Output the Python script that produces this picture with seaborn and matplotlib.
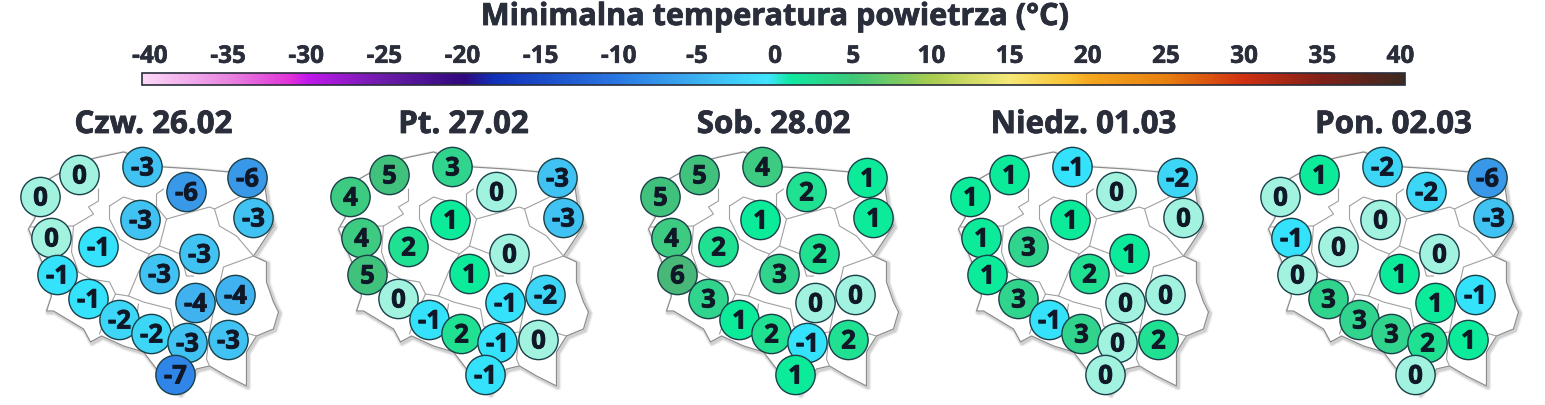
import matplotlib
matplotlib.use("Agg")
import numpy as np
import pandas as pd
import seaborn as sns
import matplotlib.pyplot as plt
import matplotlib.patheffects as pe
from matplotlib.colors import LinearSegmentedColormap, Normalize
from matplotlib.cm import ScalarMappable

sns.set_style("white")
plt.rcParams['font.family'] = ['Open Sans', 'Noto Sans', 'DejaVu Sans']
plt.rcParams['axes.unicode_minus'] = False

TEXT = '#2a2e3b'

days = ['Czw. 26.02', 'Pt. 27.02', 'Sob. 28.02', 'Niedz. 01.03', 'Pon. 02.03']

# station location on the map
station_x = [41, 80, 143, 187, 248, 254, 141, 52, 99, 200, 160, 58, 89, 120, 152, 188, 196, 236, 229, 176]
station_y = [198, 176, 168, 193, 179, 219, 221, 239, 248, 255, 275, 276, 300, 321, 335, 344, 304, 296, 341, 376]

temps = [
    [0, 0, -3, -6, -6, -3, -3, 0, -1, -3, -3, -1, -1, -2, -2, -3, -4, -4, -3, -7],
    [4, 5, 3, 0, -3, -3, 1, 4, 2, 0, 1, 5, 0, -1, 2, -1, -1, -2, 0, -1],
    [5, 5, 4, 2, 1, 1, 1, 4, 2, 2, 3, 6, 3, 1, 2, -1, 0, 0, 2, 1],
    [1, 1, -1, 0, -2, 0, 1, 1, 3, 1, 2, 1, 3, -1, 3, 0, 0, 0, 2, 0],
    [0, 1, -2, -2, -6, -3, 0, -1, 0, 0, 1, 0, 3, 3, 3, 2, 1, -1, 1, 0],
]

# colours of the circles
temp_colors = {-7: '#2f86e8', -6: '#3a98e8', -4: '#40b2f0', -3: '#40c2f2', -2: '#3dd6f6', -1: '#35e2fc',
               0: '#a2f2e0', 1: '#0ceb99', 2: '#20e092', 3: '#30d48c', 4: '#3ccb80', 5: '#40c27c', 6: '#48b878'}

# scale of the colour bar, it runs a little past the end ticks
bar_ticks = list(range(-40, 45, 5))
bar_min, bar_max = -40.5, 40.3
bar_stops = [(-40.5, '#fcd8f8'), (-35, '#e884e0'), (-31, '#e030d8'), (-30, '#c018ec'), (-25, '#6a1ca8'),
             (-20, '#30087c'), (-18, '#1030b8'), (-10, '#2a78e2'), (-5, '#3cb0f0'), (-0.5, '#40e4ff'),
             (1, '#10e8a0'), (5, '#3cc878'), (10, '#a8cc50'), (15, '#f5e878'), (19, '#f8c030'), (20, '#f5a820'),
             (25, '#e88010'), (30, '#d03010'), (35, '#802018'), (40.3, '#3c2a20')]

# map lines
outline_x = [80, 100, 124, 143, 164, 197, 230, 264, 268, 274, 254, 267, 267, 274, 279, 274, 257, 247, 247,
             227, 210, 197, 180, 157, 144, 124, 102, 91, 84, 54, 47, 52, 42, 29, 36, 23, 80]
outline_y = [163, 158, 153, 160, 168, 170, 173, 178, 205, 227, 257, 263, 283, 303, 313, 330, 337, 353, 387,
             377, 367, 370, 395, 370, 353, 347, 337, 343, 330, 312, 312, 297, 262, 230, 218, 195, 163]
borders = [
    ([99, 99, 89, 94, 74, 72, 79, 91, 110, 116, 129, 144, 171, 174], [190, 202, 208, 215, 227, 253, 273, 280, 283, 295, 297, 303, 310, 327]),
    ([110, 124, 157, 167, 160, 150, 137, 120, 110, 110], [207, 198, 208, 220, 247, 255, 250, 240, 220, 207]),
    ([164, 157, 157], [190, 195, 208]),
    ([167, 210, 215, 220, 237, 254], [220, 208, 210, 227, 237, 257]),
    ([215, 240], [210, 198]),
    ([254, 224, 219, 215, 210, 207, 210], [257, 268, 290, 307, 333, 360, 367]),
    ([150, 139, 129], [255, 273, 297]),
    ([160, 181, 187, 194], [247, 255, 277, 277]),
    ([174, 190, 210], [327, 335, 333]),
    ([257, 240, 222], [337, 332, 328]),
    ([30, 74], [228, 227]),
    ([54, 79], [270, 273]),
    ([139, 134, 144], [305, 340, 353]),
    ([116, 108, 100], [295, 312, 335]),
]

bar_cmap = LinearSegmentedColormap.from_list(
    'temp', [((v - bar_min) / (bar_max - bar_min), c) for v, c in bar_stops], N=512)


def heavy(color, width=0.6):
    return [pe.withStroke(linewidth=width, foreground=color)]


W, H = 1545, 406
fig = plt.figure(figsize=(W / 100, H / 100), dpi=100, facecolor='white')
fig.text(774 / W, 1 - 18 / H, 'Minimalna temperatura powietrza (°C)', ha='center', va='center',
         fontsize=22, fontweight='bold', color=TEXT, path_effects=heavy(TEXT))

# colour bar along the top
cax = fig.add_axes([142 / W, 1 - 86 / H, 1263 / W, 12 / H])
cb = fig.colorbar(ScalarMappable(Normalize(bar_min, bar_max), bar_cmap), cax=cax, orientation='horizontal')
cb.set_ticks(bar_ticks)
cb.outline.set_edgecolor(TEXT)
cb.outline.set_linewidth(1.2)
cax.xaxis.set_ticks_position('top')
cax.tick_params(axis='x', direction='in', length=2, width=1.2, color='#15151f', pad=3, labelsize=17.5,
                labelcolor=TEXT, top=True, bottom=True, labeltop=True, labelbottom=False)
for lab in cax.get_xticklabels():
    lab.set_fontweight('bold')
    lab.set_path_effects(heavy(TEXT, 0.4))

for i, day in enumerate(days):
    ax = fig.add_axes([(310 * i - 0.5) / W, 0, 310 / W, 271 / H])
    ax.set_xlim(0, 310)
    ax.set_ylim(406, 135)
    ax.axis('off')

    # soft shadow, then the borders
    for lw, col in ((4.5, '#eeeeee'), (2.5, '#d0d0d0')):
        ax.plot(np.array(outline_x) + 1.5, np.array(outline_y) + 1.5, color=col, lw=lw, zorder=1)
    ax.fill(outline_x, outline_y, color='white', zorder=1.5)
    ax.plot(outline_x, outline_y, color='#8c8c8c', lw=0.9, zorder=2)
    for bx, by in borders:
        ax.plot(bx, by, color='#a0a0a0', lw=0.8, zorder=2)

    df = pd.DataFrame({'x': station_x, 'y': station_y, 'temp': temps[i]})
    sns.scatterplot(data=df, x='x', y='y', hue='temp', palette=temp_colors, s=800, edgecolor='#1a4048',
                    linewidth=1, legend=False, ax=ax, zorder=3, clip_on=False)
    ax.set_xlabel('')
    ax.set_ylabel('')
    for x, y, t in zip(station_x, station_y, temps[i]):
        ax.text(x, y + 1, str(t), ha='center', va='center', fontsize=18.5, fontweight='bold', color='#101828',
                zorder=4, clip_on=False, path_effects=heavy('#101828', 0.6))

    ax.text(154, 126, day, ha='center', va='center', fontsize=22.5, fontweight='bold', color=TEXT, clip_on=False,
            path_effects=heavy(TEXT))

fig.savefig('out.png', dpi=100)
